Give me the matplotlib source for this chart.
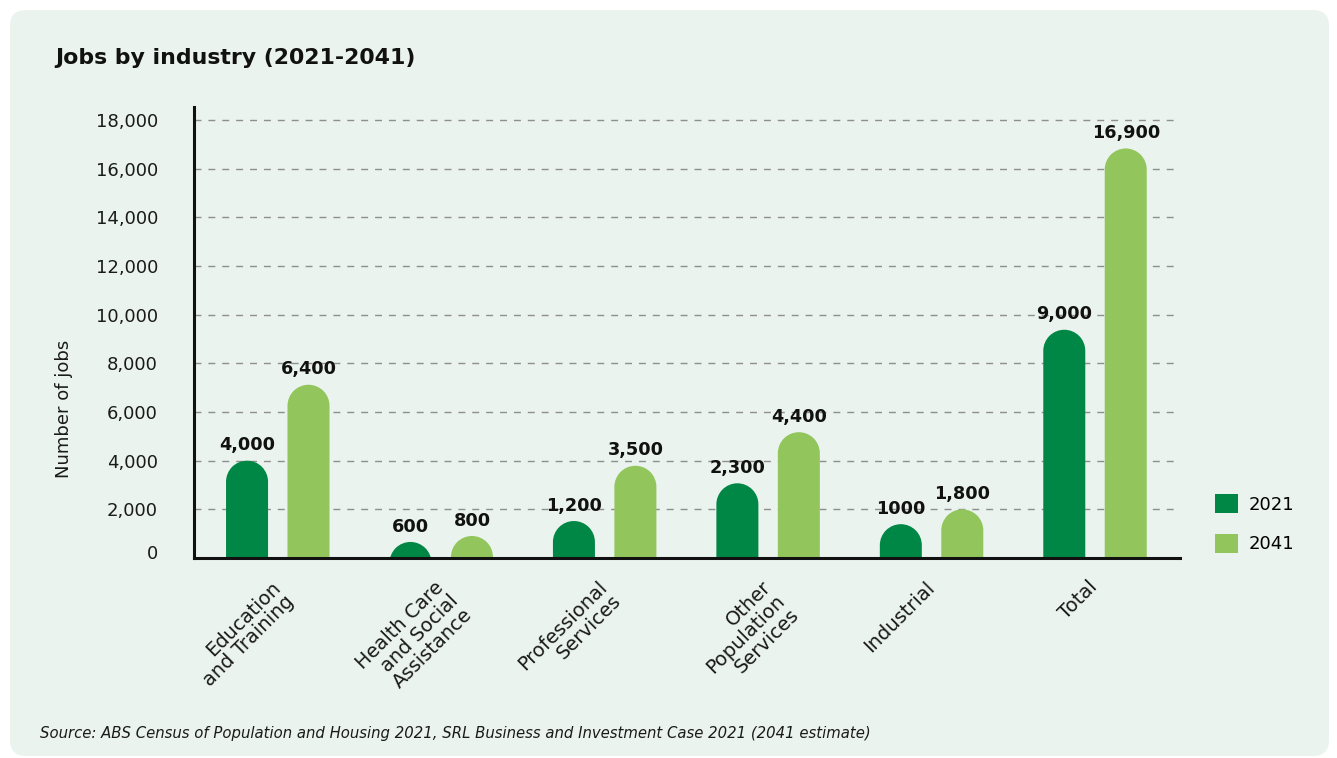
import numpy as np
import matplotlib
matplotlib.use("Agg")
import matplotlib.pyplot as plt
from matplotlib.path import Path
from matplotlib.patches import PathPatch, FancyBboxPatch, Patch
from matplotlib.transforms import IdentityTransform, ScaledTranslation

# ---------------- data ----------------
categories = ["Education\nand Training", "Health Care\nand Social\nAssistance",
              "Professional\nServices", "Other\nPopulation\nServices",
              "Industrial", "Total"]
series_names = ["2021", "2041"]
# bar heights as drawn in the reference
heights_2021 = [4000, 660, 1520, 3070, 1390, 9380]
heights_2041 = [7120, 905, 3790, 5170, 2000, 16830]
# value labels as printed
labels_2021 = ["4,000", "600", "1,200", "2,300", "1000", "9,000"]
labels_2041 = ["6,400", "800", "3,500", "4,400", "1,800", "16,900"]
yticks = [0, 2000, 4000, 6000, 8000, 10000, 12000, 14000, 16000, 18000]
ytick_labels = ["0", "2,000", "4,000", "6,000", "8,000", "10,000",
                "12,000", "14,000", "16,000", "18,000"]

# ---------------- style ----------------
DARK = "#008745"
LIGHT = "#92C65D"
PANEL = "#EAF3EE"
plt.rcParams["font.family"] = ["DejaVu Sans"]

W, H = 1337, 758
fig = plt.figure(figsize=(W / 100, H / 100), dpi=100)
fig.patch.set_facecolor("white")

# rounded background panel (pixel coords)
panel = FancyBboxPatch((10, 2), 1319, 746, boxstyle="round,pad=0,rounding_size=16",
                       transform=IdentityTransform(), facecolor=PANEL,
                       edgecolor="none", zorder=-5)
fig.patches.append(panel)

# axes placement in pixels
ax_l, ax_r, ax_t, ax_b = 194, 1180, 107, 558
ax = fig.add_axes([ax_l / W, (H - ax_b) / H, (ax_r - ax_l) / W, (ax_b - ax_t) / H])
ax.set_facecolor("none")
ax.set_zorder(1)

xlim = (-0.5125, 5.52)
ylim = (0, 18534)
ax.set_xlim(*xlim)
ax.set_ylim(*ylim)

bar_w = 0.257
offset = 0.188

px_x = (ax_r - ax_l) / (xlim[1] - xlim[0])
px_y = (ax_b - ax_t) / (ylim[1] - ylim[0])


def rounded_bar(ax, xc, h, w, color):
    rx = w / 2
    ry = rx * px_x / px_y
    cy = h - ry
    y0 = min(0, cy)
    arc = Path.arc(0, 180)
    av = arc.vertices * np.array([rx, ry]) + np.array([xc, cy])
    verts = [(xc + rx, y0), (xc + rx, cy)] + [tuple(v) for v in av[1:]] + \
            [(xc - rx, y0), (xc + rx, y0)]
    codes = [Path.MOVETO, Path.LINETO] + list(arc.codes[1:]) + \
            [Path.LINETO, Path.CLOSEPOLY]
    p = PathPatch(Path(verts, codes), facecolor=color, edgecolor="none",
                  zorder=3, clip_on=True)
    ax.add_patch(p)


x = np.arange(len(categories))
for xi, h, lab in zip(x, heights_2021, labels_2021):
    rounded_bar(ax, xi - offset, h, bar_w, DARK)
    ax.annotate(lab, (xi - offset, h), xytext=(0, 7.5), textcoords="offset points",
                ha="center", va="baseline", fontsize=12.7, fontweight="bold",
                color="#111111", zorder=4)
for xi, h, lab in zip(x, heights_2041, labels_2041):
    rounded_bar(ax, xi + offset, h, bar_w, LIGHT)
    ax.annotate(lab, (xi + offset, h), xytext=(0, 7.5), textcoords="offset points",
                ha="center", va="baseline", fontsize=12.7, fontweight="bold",
                color="#111111", zorder=4)

# grid
ax.set_yticks(yticks)
ax.set_yticklabels(ytick_labels, fontsize=13, color="#1a1a1a")
for y in yticks[1:]:
    ax.axhline(y, color="#8f8f8f", lw=1.0, ls=(0, (5, 5)), zorder=1)

# spines
for s in ["top", "right"]:
    ax.spines[s].set_visible(False)
for s in ["left", "bottom"]:
    ax.spines[s].set_linewidth(2.2)
    ax.spines[s].set_color("#111111")
    ax.spines[s].set_zorder(5)

ax.tick_params(axis="y", length=0, pad=26)
ax.tick_params(axis="x", length=0, pad=14)
ax.set_xticks(x)
ax.set_xticklabels(categories, rotation=45, ha="right", va="top",
                   rotation_mode="anchor", multialignment="right",
                   fontsize=14, linespacing=1.05, color="#1a1a1a")
shift_x = ScaledTranslation(-7 / 100, 0, fig.dpi_scale_trans)
for t in ax.get_xticklabels():
    t.set_transform(t.get_transform() + shift_x)
# the "0" label sits a little above the baseline in the reference
zero_lbl = ax.yaxis.get_major_ticks()[0].label1
zero_lbl.set_transform(zero_lbl.get_transform() +
                       ScaledTranslation(0, 6 / 100, fig.dpi_scale_trans))

ax.set_ylabel("Number of jobs", fontsize=13, color="#1a1a1a")
ax.yaxis.set_label_coords(-0.123, 0.331)

# legend
handles = [Patch(facecolor=DARK, edgecolor="none", label=series_names[0]),
           Patch(facecolor=LIGHT, edgecolor="none", label=series_names[1])]
fs = 13 * 100 / 72
ax.legend(handles=handles, loc="upper left", bbox_to_anchor=(1215 / W, (H - 494) / H),
          bbox_transform=fig.transFigure, frameon=False, fontsize=13,
          handlelength=23 / fs, handleheight=23 / fs, handletextpad=11 / fs,
          labelspacing=20 / fs, borderpad=0, borderaxespad=0)

fig.text(55 / W, (H - 63.5) / H, "Jobs by industry (2021-2041)", fontsize=15.8,
         fontweight="bold", color="#111111", va="baseline", ha="left")
fig.text(40 / W, (H - 738) / H,
         "Source: ABS Census of Population and Housing 2021, SRL Business and "
         "Investment Case 2021 (2041 estimate)",
         fontsize=10.7, style="italic", color="#1a1a1a", va="baseline", ha="left")

fig.savefig("out.png", dpi=100, facecolor=fig.get_facecolor())
